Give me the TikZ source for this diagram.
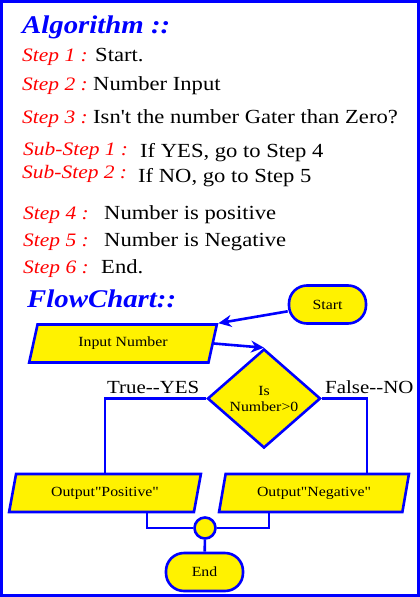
\documentclass[tikz,border=0pt]{standalone}
\usepackage{fontspec}
\newfontfamily\georgia{Liberation Serif}[FakeStretch=1.13]
\usetikzlibrary{shapes.geometric,arrows.meta}

\tikzset{
  frame/.style={draw=blue, line width=3pt},
  title/.style={anchor=base west, inner sep=0, text=blue, font=\georgia\bfseries\itshape\fontsize{25.5}{28}\selectfont},
  steplabel/.style={anchor=base west, inner sep=0, text=red, font=\georgia\itshape\fontsize{19}{24}\selectfont},
  steptext/.style={anchor=base west, inner sep=0, font=\georgia\fontsize{20}{24}\selectfont},
  branch/.style={steptext, font=\georgia\fontsize{18.5}{22}\selectfont},
  flowbox/.style={draw=blue, fill=yellow, line width=2.6pt, inner sep=0, align=center, font=\georgia\fontsize{14}{16}\selectfont},
  io/.style={flowbox, trapezium, trapezium left angle=71, trapezium right angle=109, trapezium stretches=true, minimum height=38pt},
  term/.style={flowbox, rectangle, rounded corners=18pt, minimum width=77pt, minimum height=38pt},
  decision/.style={flowbox, diamond, aspect=1.14, minimum width=113pt, minimum height=99pt},
  joint/.style={flowbox, circle, minimum size=21pt},
  link/.style={draw=blue, line width=2.6pt},
  arrowlink/.style={link, -{Stealth[length=13pt,width=12pt]}}
}

\begin{document}
\begin{tikzpicture}[x=1pt,y=-1pt]
  \useasboundingbox (0,0) rectangle (420,597);
  \draw[frame] (1.5,1.5) rectangle (418.5,595.5);

  % algorithm
  \node[title] (algo) at (22,33) {Algorithm ::};
  \node[steplabel] (l1) at (22,61) {Step 1 :};
  \node[steptext] (t1) at (95,61) {Start.};
  \node[steplabel] (l2) at (22,90) {Step 2 :};
  \node[steptext] (t2) at (93,90) {Number Input};
  \node[steplabel] (l3) at (22,123) {Step 3 :};
  \node[steptext] (t3) at (93,123) {Isn't the number Gater than Zero?};
  \node[steplabel] (l31) at (23,155) {Sub-Step 1 :};
  \node[steptext] (t31) at (140,157) {If YES, go to Step 4};
  \node[steplabel] (l32) at (22,178) {Sub-Step 2 :};
  \node[steptext] (t32) at (138,182) {If NO, go to Step 5};
  \node[steplabel] (l4) at (23,219) {Step 4 :};
  \node[steptext] (t4) at (104,219) {Number is positive};
  \node[steplabel] (l5) at (23,246) {Step 5 :};
  \node[steptext] (t5) at (104,246) {Number is Negative};
  \node[steplabel] (l6) at (23,273) {Step 6 :};
  \node[steptext] (t6) at (101,273) {End.};

  % flowchart
  \node[title] (flow) at (27,307) {FlowChart::};
  \node[term] (start) at (327.5,304.5) {Start};
  \node[io, minimum width=188pt] (input) at (123,343.5) {Input Number};
  \node[decision] (dec) at (264,398.5) {Is\\Number>0};
  \node[branch] (yes) at (107,393) {True-{}-YES};
  \node[branch] (no) at (325,393) {False-{}-NO};
  \node[io, minimum width=192pt] (pos) at (105,493) {Output"Positive"};
  \node[io, minimum width=190pt] (neg) at (314,493) {Output"Negative"};
  \node[joint] (join) at (205,528) {};
  \node[term] (end) at (204.5,572) {End};

  \coordinate (noturn) at (367,398.5);
  \coordinate (posdrop) at (147,520);
  \coordinate (negdrop) at (269,520);

  \draw[arrowlink] (start) -- (input.top right corner);
  \draw[arrowlink] (input.east) -- (dec.north);
  \draw[link] (dec.west) -| (pos.north);
  \draw[link] (dec.east) -- (noturn) -- (noturn |- neg.north);
  \draw[link] (posdrop |- pos.south) |- (join.west);
  \draw[link] (negdrop |- neg.south) |- (join.east);
  \draw[link] (join) -- (end);
\end{tikzpicture}
\end{document}
